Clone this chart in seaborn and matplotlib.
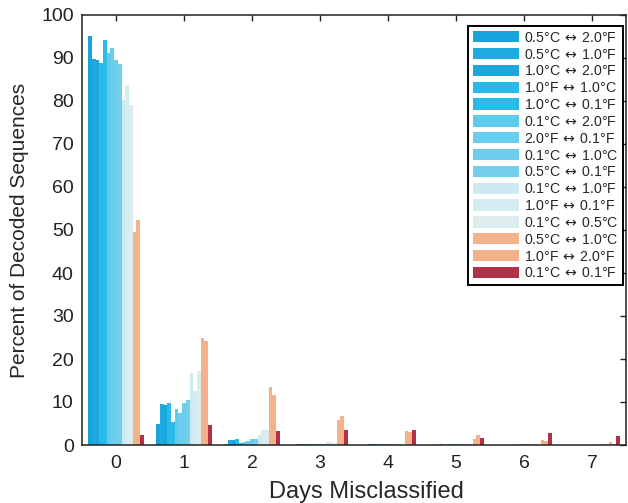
import numpy as np
import pandas as pd
import matplotlib
matplotlib.use("Agg")
import matplotlib.pyplot as plt
import seaborn as sns

days = [0, 1, 2, 3, 4, 5, 6, 7]
methods = ["0.5°C$\\,\\leftrightarrow\\,$2.0°F", "0.5°C$\\,\\leftrightarrow\\,$1.0°F",
           "1.0°C$\\,\\leftrightarrow\\,$2.0°F", "1.0°F$\\,\\leftrightarrow\\,$1.0°C",
           "1.0°C$\\,\\leftrightarrow\\,$0.1°F", "0.1°C$\\,\\leftrightarrow\\,$2.0°F",
           "2.0°F$\\,\\leftrightarrow\\,$0.1°F", "0.1°C$\\,\\leftrightarrow\\,$1.0°C",
           "0.5°C$\\,\\leftrightarrow\\,$0.1°F", "0.1°C$\\,\\leftrightarrow\\,$1.0°F",
           "1.0°F$\\,\\leftrightarrow\\,$0.1°F", "0.1°C$\\,\\leftrightarrow\\,$0.5°C",
           "0.5°C$\\,\\leftrightarrow\\,$1.0°C", "1.0°F$\\,\\leftrightarrow\\,$2.0°F",
           "0.1°C$\\,\\leftrightarrow\\,$0.1°F"]

s01 = [95.1, 5.0, 0.2, 0.1, 0.1, 0.1, 0.1, 0.1]
s02 = [89.7, 9.5, 1.1, 0.2, 0.1, 0.1, 0.1, 0.1]
s03 = [89.6, 9.3, 1.2, 0.2, 0.2, 0.1, 0.1, 0.1]
s04 = [88.9, 9.7, 1.5, 0.2, 0.2, 0.2, 0.1, 0.1]
s05 = [94.3, 5.3, 0.5, 0.2, 0.2, 0.1, 0.1, 0.1]
s06 = [91.2, 8.3, 0.8, 0.2, 0.2, 0.2, 0.1, 0.1]
s07 = [92.3, 7.4, 1.0, 0.2, 0.2, 0.2, 0.2, 0.1]
s08 = [89.5, 9.7, 1.3, 0.2, 0.2, 0.2, 0.2, 0.1]
s09 = [88.6, 10.4, 1.3, 0.3, 0.2, 0.2, 0.2, 0.1]
s10 = [80.2, 16.7, 2.3, 0.6, 0.3, 0.2, 0.2, 0.2]
s11 = [83.7, 12.6, 3.6, 0.6, 0.3, 0.2, 0.2, 0.2]
s12 = [79.1, 17.3, 3.5, 0.5, 0.3, 0.2, 0.2, 0.2]
s13 = [49.5, 25.0, 13.6, 5.8, 3.3, 1.4, 1.2, 0.7]
s14 = [52.3, 24.2, 11.6, 6.8, 3.0, 2.3, 0.9, 0.3]
s15 = [2.4, 4.6, 3.3, 3.5, 3.4, 1.7, 2.7, 2.1]
series = [s01, s02, s03, s04, s05, s06, s07, s08, s09, s10, s11, s12, s13, s14, s15]

colors = ["#18a3dc", "#1eabe2", "#1ca6de", "#29b9e8", "#2bbbe9", "#5ccbec",
          "#69ceee", "#6dcdec", "#74cfed", "#cde9f2", "#d5ecf3", "#ddeded",
          "#f4b28c", "#f4b28c", "#b03246"]

rows = []
for m, vals in zip(methods, series):
    for d, v in zip(days, vals):
        rows.append({"day": d, "method": m, "value": v})
df = pd.DataFrame(rows)

sns.set_style("white")
plt.rcParams["font.family"] = ["Liberation Sans", "DejaVu Sans"]
plt.rcParams["mathtext.fontset"] = "custom"
plt.rcParams["mathtext.rm"] = "Noto Sans CJK SC"
plt.rcParams["mathtext.it"] = "Noto Sans CJK SC"
plt.rcParams["mathtext.bf"] = "Noto Sans CJK SC"

fig = plt.figure(figsize=(6.28, 5.03), dpi=100)
ax = fig.add_axes([82/628, 58/503, 544/628, 430/503])

sns.barplot(data=df, x="day", y="value", hue="method", order=days,
            hue_order=methods, palette=colors, saturation=1, width=0.82,
            errorbar=None, linewidth=0, edgecolor="none", ax=ax)

ax.set_xlim(-0.5, 7.5)
ax.set_ylim(0, 100)
ax.set_yticks(np.arange(0, 101, 10))
ax.set_xlabel("Days Misclassified", fontsize=17)
ax.set_ylabel("Percent of Decoded Sequences", fontsize=15)
ax.xaxis.set_label_coords(0.523, -0.083)
ax.yaxis.set_label_coords(-0.097, 0.5)
ax.tick_params(axis="both", direction="in", length=4.5, width=1.0, color="#222222",
               labelsize=14, top=True, right=True, labelcolor="#222222")
ax.tick_params(axis="y", pad=6)
ax.tick_params(axis="x", pad=7)
for sp in ax.spines.values():
    sp.set_visible(True)
    sp.set_linewidth(1.1)
    sp.set_color("#222222")

handles, labels = ax.get_legend_handles_labels()
leg = ax.legend(handles, labels, loc="upper right", bbox_to_anchor=(0.9945, 0.975),
                fontsize=10.2, frameon=True, fancybox=False, edgecolor="black",
                framealpha=1, labelspacing=0.2, handlelength=3.2, handleheight=0.85,
                handletextpad=0.35, borderpad=0.35, borderaxespad=0.0, title=None)
leg.get_frame().set_linewidth(1.4)

fig.savefig("out.png", dpi=100)
